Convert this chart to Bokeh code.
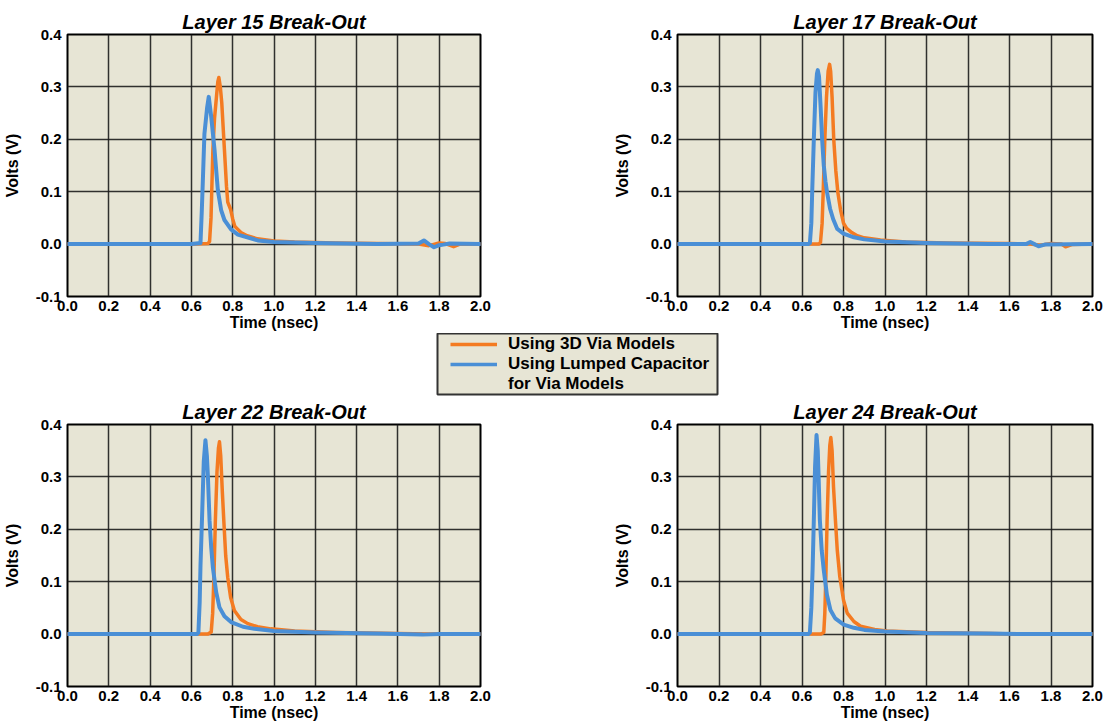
from bokeh.plotting import figure
from bokeh.layouts import column, row
from bokeh.models import Range1d, PrintfTickFormatter, FixedTicker, Legend, LegendItem
from bokeh.embed import file_html
from bokeh.resources import INLINE

# ---------------- data (time in nsec, volts) ----------------
titles = ["Layer 15 Break-Out", "Layer 17 Break-Out", "Layer 22 Break-Out", "Layer 24 Break-Out"]
series_labels = ["Using 3D Via Models", "Using Lumped Capacitor", "for Via Models"]
x_ticks = [0.0, 0.2, 0.4, 0.6, 0.8, 1.0, 1.2, 1.4, 1.6, 1.8, 2.0]
y_ticks = [-0.1, 0.0, 0.1, 0.2, 0.3, 0.4]

# Layer 15
t15_3d = [0.0, 0.60, 0.68, 0.688, 0.695, 0.704, 0.712, 0.72, 0.728, 0.733, 0.74, 0.747, 0.76, 0.77, 0.776,
          0.79, 0.80, 0.81, 0.82, 0.84, 0.87, 0.92, 1.0, 1.1, 1.3, 1.5, 1.70, 1.75, 1.80, 1.83, 1.87, 1.90, 2.0]
v15_3d = [0.0, 0.0, 0.001, 0.005, 0.05, 0.18, 0.24, 0.275, 0.31, 0.318, 0.30, 0.27, 0.18, 0.11, 0.08,
          0.066, 0.048, 0.034, 0.030, 0.022, 0.016, 0.010, 0.006, 0.004, 0.002, 0.001, 0.0, -0.003, 0.002, 0.001, -0.005, 0.0, 0.0]
t15_lc = [0.0, 0.60, 0.644, 0.65, 0.655, 0.663, 0.676, 0.684, 0.696, 0.712, 0.728, 0.744, 0.76, 0.792, 0.825,
          0.921, 1.0, 1.2, 1.5, 1.70, 1.726, 1.75, 1.775, 1.80, 1.82, 1.85, 2.0]
v15_lc = [0.0, 0.0, 0.002, 0.06, 0.116, 0.21, 0.26, 0.281, 0.243, 0.18, 0.103, 0.065, 0.046, 0.028, 0.018,
          0.007, 0.004, 0.002, 0.0, 0.001, 0.007, 0.0, -0.006, -0.002, -0.001, 0.001, 0.0]

# Layer 17
t17_3d = [0.0, 0.68, 0.689, 0.697, 0.702, 0.71, 0.718, 0.726, 0.733, 0.738, 0.745, 0.753, 0.763, 0.773, 0.78,
          0.786, 0.80, 0.815, 0.84, 0.866, 0.90, 0.978, 1.1, 1.3, 1.6, 1.70, 1.75, 1.80, 1.85, 1.87, 1.90, 2.0]
v17_3d = [0.0, 0.0, 0.003, 0.04, 0.098, 0.20, 0.28, 0.33, 0.343, 0.33, 0.28, 0.20, 0.14, 0.098, 0.08,
          0.065, 0.04, 0.03, 0.022, 0.016, 0.012, 0.008, 0.004, 0.002, 0.001, 0.0, -0.002, 0.001, 0.0, -0.005, -0.001, 0.0]
t17_lc = [0.0, 0.63, 0.638, 0.645, 0.649, 0.657, 0.665, 0.672, 0.676, 0.682, 0.69, 0.697, 0.705, 0.713, 0.721,
          0.735, 0.75, 0.77, 0.80, 0.85, 0.90, 1.0, 1.2, 1.5, 1.68, 1.70, 1.72, 1.74, 1.77, 2.0]
v17_lc = [0.0, 0.0, 0.002, 0.04, 0.098, 0.20, 0.29, 0.325, 0.332, 0.32, 0.26, 0.20, 0.15, 0.12, 0.098,
          0.068, 0.048, 0.029, 0.02, 0.013, 0.009, 0.005, 0.002, 0.0, 0.0, 0.004, 0.0, -0.004, -0.001, 0.0]

# Layer 22
t22_3d = [0.0, 0.68, 0.696, 0.703, 0.709, 0.716, 0.724, 0.731, 0.736, 0.742, 0.75, 0.757, 0.766, 0.776, 0.79,
          0.808, 0.84, 0.873, 0.92, 0.985, 1.1, 1.3, 1.6, 1.75, 2.0]
v22_3d = [0.0, 0.0, 0.004, 0.04, 0.108, 0.216, 0.31, 0.355, 0.367, 0.34, 0.27, 0.216, 0.15, 0.108, 0.07,
          0.045, 0.028, 0.02, 0.014, 0.010, 0.006, 0.003, 0.001, 0.0, 0.0]
t22_lc = [0.0, 0.628, 0.634, 0.64, 0.644, 0.651, 0.66, 0.668, 0.675, 0.68, 0.688, 0.696, 0.704, 0.72, 0.736,
          0.76, 0.792, 0.85, 0.905, 1.0, 1.2, 1.5, 1.72, 1.8, 2.0]
v22_lc = [0.0, 0.0, 0.003, 0.06, 0.13, 0.216, 0.33, 0.37, 0.34, 0.30, 0.216, 0.165, 0.127, 0.08, 0.051,
          0.034, 0.023, 0.014, 0.010, 0.006, 0.003, 0.001, -0.001, 0.0, 0.0]

# Layer 24
t24_3d = [0.0, 0.69, 0.705, 0.71, 0.715, 0.721, 0.728, 0.734, 0.739, 0.745, 0.752, 0.761, 0.77, 0.782, 0.80,
          0.818, 0.85, 0.882, 0.95, 1.01, 1.2, 1.5, 1.7, 2.0]
v24_3d = [0.0, 0.0, 0.003, 0.04, 0.11, 0.218, 0.31, 0.36, 0.375, 0.35, 0.28, 0.218, 0.16, 0.11, 0.065,
          0.04, 0.024, 0.015, 0.009, 0.006, 0.003, 0.001, 0.0, 0.0]
t24_lc = [0.0, 0.63, 0.638, 0.645, 0.651, 0.657, 0.663, 0.67, 0.676, 0.68, 0.686, 0.695, 0.705, 0.72, 0.737,
          0.76, 0.801, 0.85, 0.90, 1.0, 1.2, 1.5, 1.7, 2.0]
v24_lc = [0.0, 0.0, 0.003, 0.05, 0.122, 0.218, 0.32, 0.38, 0.35, 0.30, 0.218, 0.16, 0.122, 0.075, 0.046,
          0.03, 0.018, 0.012, 0.008, 0.005, 0.002, 0.001, 0.0, 0.0]

panels = [
    (titles[0], t15_3d, v15_3d, t15_lc, v15_lc),
    (titles[1], t17_3d, v17_3d, t17_lc, v17_lc),
    (titles[2], t22_3d, v22_3d, t22_lc, v22_lc),
    (titles[3], t24_3d, v24_3d, t24_lc, v24_lc),
]

# ---------------- styling ----------------
ORANGE = "#F47B22"
BLUE = "#4A8FD6"
BG = "#E7E5D5"
GRID = "#1C1C1C"
FONT = "Liberation Sans"


def make_panel(title, t3, v3, tl, vl, width, height, left, right, top, bottom):
    p = figure(width=width, height=height, output_backend="svg", toolbar_location=None,
               x_range=Range1d(0.0, 2.0), y_range=Range1d(-0.1, 0.4),
               min_border_left=left, min_border_right=right,
               min_border_top=top, min_border_bottom=bottom,
               title=title)
    p.title.text_font = FONT
    p.title.text_font_size = "20px"
    p.title.text_font_style = "bold italic"
    p.title.text_color = "black"
    p.title.align = "center"
    p.title.standoff = 3
    p.background_fill_color = BG
    p.border_fill_color = "white"
    p.outline_line_color = "black"
    p.outline_line_width = 2

    for ax in (p.xaxis[0], p.yaxis[0]):
        ax.formatter = PrintfTickFormatter(format="%.1f")
        ax.axis_line_color = None
        ax.major_tick_in = 0
        ax.major_tick_out = 0
        ax.minor_tick_line_color = None
        ax.major_label_text_font = FONT
        ax.major_label_text_font_size = "15px"
        ax.major_label_text_font_style = "bold"
        ax.major_label_text_color = "black"
        ax.axis_label_text_font = FONT
        ax.axis_label_text_font_size = "16px"
        ax.axis_label_text_font_style = "bold"
        ax.axis_label_text_color = "black"
    p.xaxis[0].ticker = FixedTicker(ticks=x_ticks)
    p.yaxis[0].ticker = FixedTicker(ticks=y_ticks)
    p.xaxis[0].axis_label = "Time (nsec)"
    p.yaxis[0].axis_label = "Volts (V)"
    p.xaxis[0].major_label_standoff = 4
    p.xaxis[0].axis_label_standoff = 0
    p.yaxis[0].major_label_standoff = 6
    p.yaxis[0].axis_label_standoff = 12

    p.grid.grid_line_color = GRID
    p.grid.grid_line_width = 1.5
    p.grid.grid_line_alpha = 0.9

    p.line(t3, v3, line_color=ORANGE, line_width=3.5, line_join="round", line_cap="round")
    p.line(tl, vl, line_color=BLUE, line_width=4, line_join="round", line_cap="round")
    return p


p1 = make_panel(*panels[0], width=540, height=333, left=66, right=60, top=34, bottom=36)
p2 = make_panel(*panels[1], width=569, height=333, left=137, right=17, top=34, bottom=36)
p3 = make_panel(*panels[2], width=540, height=328, left=66, right=60, top=26, bottom=39)
p4 = make_panel(*panels[3], width=569, height=328, left=137, right=17, top=26, bottom=39)

# ---------------- legend strip: its frame is the legend box ----------------
pl = figure(width=1109, height=64, output_backend="svg", toolbar_location=None,
            x_range=Range1d(0, 1), y_range=Range1d(0, 1),
            x_axis_location=None, y_axis_location=None,
            min_border_left=437, min_border_right=392, min_border_top=0, min_border_bottom=3)
pl.outline_line_color = "#333333"
pl.outline_line_width = 2
pl.grid.visible = False
pl.background_fill_color = BG
pl.border_fill_color = "white"
# legend-only renderers, their points lie outside the visible range
r_a = pl.line(x=[-5, -4], y=[-5, -4], line_color=ORANGE, line_width=3.5)
r_b = pl.line(x=[-5, -4], y=[-5, -4], line_color=BLUE, line_width=3.5)
r_c = pl.line(x=[-5, -4], y=[-5, -4], line_color=BLUE, line_alpha=0)
legend = Legend(items=[LegendItem(label=series_labels[0], renderers=[r_a]),
                       LegendItem(label=series_labels[1], renderers=[r_b]),
                       LegendItem(label=series_labels[2], renderers=[r_c])],
                location=(13, 0))
legend.label_text_font = FONT
legend.label_text_font_size = "17px"
legend.label_text_font_style = "bold"
legend.label_text_color = "black"
legend.glyph_width = 47
legend.glyph_height = 16
legend.label_height = 16
legend.label_standoff = 11
legend.padding = 0
legend.spacing = 0
legend.margin = 0
legend.background_fill_alpha = 0
legend.border_line_color = None
pl.add_layout(legend)

layout = column(row(p1, p2), pl, row(p3, p4))

open("out.html", "w").write(file_html(layout, INLINE))
